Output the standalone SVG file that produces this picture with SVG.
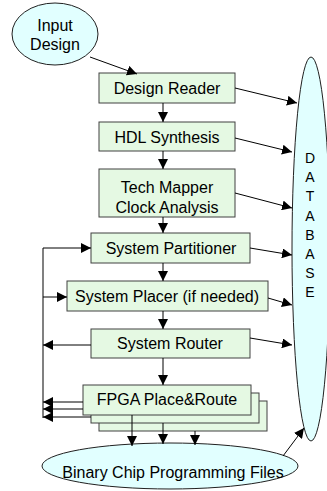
<svg xmlns="http://www.w3.org/2000/svg" width="327" height="491" viewBox="0 0 327 491">
  <style>
    .box { fill: #e5f9e3; stroke: #404040; stroke-width: 1; }
    .oval { fill: #e1ffff; stroke: #202020; stroke-width: 1; }
    .lbl { font-family: "Liberation Sans", Arial, sans-serif; font-size: 16px; fill: #000; text-anchor: middle; }
    .db { font-family: "Liberation Sans", Arial, sans-serif; font-size: 14px; fill: #000; text-anchor: middle; }
    .wire { stroke: #000; stroke-width: 1; fill: none; marker-end: url(#head); }
    .bus { stroke: #808080; stroke-width: 2; fill: none; }
  </style>
  <defs>
    <marker id="head" markerUnits="userSpaceOnUse" markerWidth="10" markerHeight="10" refX="10" refY="5" orient="auto">
      <path d="M0,0 L10,5 L0,10 z" fill="#000"/>
    </marker>
  </defs>

  <!-- database column -->
  <g id="database">
    <ellipse class="oval" cx="311" cy="249" rx="19" ry="192"/>
    <text class="db" x="310" y="163">D</text>
    <text class="db" x="310" y="182">A</text>
    <text class="db" x="310" y="201">T</text>
    <text class="db" x="310" y="221">A</text>
    <text class="db" x="310" y="240">B</text>
    <text class="db" x="310" y="259">A</text>
    <text class="db" x="310" y="278">S</text>
    <text class="db" x="310" y="297">E</text>
  </g>

  <g id="input-design">
    <ellipse class="oval" cx="55" cy="34" rx="43" ry="31"/>
    <text class="lbl" x="55" y="31">Input</text>
    <text class="lbl" x="55" y="50">Design</text>
  </g>

  <g id="design-reader">
    <rect class="box" x="99" y="73" width="136" height="30"/>
    <text class="lbl" x="167" y="94">Design Reader</text>
  </g>

  <g id="hdl-synthesis">
    <rect class="box" x="99" y="122" width="136" height="29"/>
    <text class="lbl" x="167" y="143">HDL Synthesis</text>
  </g>

  <g id="tech-mapper">
    <rect class="box" x="99" y="169" width="136" height="48"/>
    <text class="lbl" x="167" y="193">Tech Mapper</text>
    <text class="lbl" x="167" y="213">Clock Analysis</text>
  </g>

  <g id="system-partitioner">
    <rect class="box" x="91" y="233" width="159" height="30"/>
    <text class="lbl" x="171" y="254">System Partitioner</text>
  </g>

  <g id="system-placer">
    <rect class="box" x="67" y="281" width="201" height="30"/>
    <text class="lbl" x="167" y="302">System Placer (if needed)</text>
  </g>

  <g id="system-router">
    <rect class="box" x="91" y="329" width="159" height="29"/>
    <text class="lbl" x="170" y="349">System Router</text>
  </g>

  <g id="fpga-place-route">
    <rect class="box" x="99" y="401" width="168" height="30"/>
    <rect class="box" x="91" y="393" width="168" height="30"/>
    <rect class="box" x="83" y="385" width="168" height="30"/>
    <text class="lbl" x="167" y="405">FPGA Place&amp;Route</text>
  </g>

  <g id="binary-files">
    <ellipse class="oval" cx="170" cy="466" rx="128" ry="23"/>
    <text class="lbl" x="173" y="478">Binary Chip Programming Files</text>
  </g>

  <g id="connectors">
    <!-- main flow -->
    <path class="wire" d="M90,57 L137,74"/>
    <path class="wire" d="M163,103 L163,122"/>
    <path class="wire" d="M163,151 L163,169"/>
    <path class="wire" d="M163,217 L163,233"/>
    <path class="wire" d="M163,263 L163,281"/>
    <path class="wire" d="M163,311 L163,329"/>
    <path class="wire" d="M163,358 L163,385"/>
    <!-- FPGA outputs -->
    <path class="wire" d="M132,415 L132,446"/>
    <path class="wire" d="M163,423 L163,444"/>
    <path class="wire" d="M195,431 L195,445"/>
    <!-- writes to database -->
    <path class="wire" d="M235,88 L297,103"/>
    <path class="wire" d="M235,138 L292,152"/>
    <path class="wire" d="M235,193 L292,208"/>
    <path class="wire" d="M250,248 L292,255"/>
    <path class="wire" d="M268,298 L292,305"/>
    <path class="wire" d="M250,338 L292,345"/>
    <path class="wire" d="M283,456 L304,428"/>
    <!-- feedback bus -->
    <path class="bus" d="M43,248 L43,418"/>
    <path class="wire" d="M43,248 L91,248"/>
    <path class="wire" d="M43,297 L67,297"/>
    <path class="wire" d="M91,345 L43,345"/>
    <path class="wire" d="M83,402 L43,402"/>
    <path class="wire" d="M83,409 L43,409"/>
    <path class="wire" d="M91,417 L43,417"/>
  </g>
</svg>
